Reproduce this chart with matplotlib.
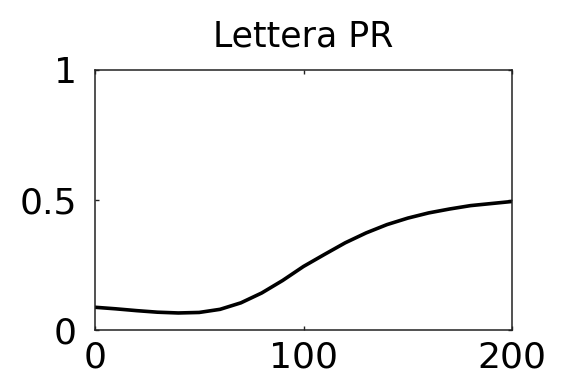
import matplotlib
matplotlib.use('Agg')
import matplotlib.pyplot as plt

# campioni della curva PR
campioni = [0, 10, 20, 30, 40, 50, 60, 70, 80, 90, 100,
            110, 120, 130, 140, 150, 160, 170, 180, 190, 200]
valori_pr = [0.087, 0.081, 0.074, 0.068, 0.065, 0.067, 0.079, 0.104, 0.142, 0.19, 0.244,
             0.29, 0.335, 0.373, 0.405, 0.43, 0.45, 0.465, 0.478, 0.486, 0.494]

x_ticks = [0, 100, 200]
y_ticks = [0, 0.5, 1]
y_tick_labels = ['0', '0.5', '1']

plt.rcParams['font.family'] = ['DejaVu Sans']

fig = plt.figure(figsize=(5.61, 3.74), dpi=100)
ax = fig.add_axes([0.169, 0.118, 0.744, 0.695])

ax.plot(campioni, valori_pr, color='black', linewidth=2.6, solid_capstyle='butt')

ax.set_xlim(0, 200)
ax.set_ylim(0, 1)
ax.set_xticks(x_ticks)
ax.set_yticks(y_ticks)
ax.set_yticklabels(y_tick_labels)
ax.tick_params(axis='both', direction='in', length=3, width=1, labelsize=26,
               top=True, right=True, color='#222222')
ax.tick_params(axis='x', pad=8)
ax.tick_params(axis='y', pad=13)

for spine in ax.spines.values():
    spine.set_linewidth(1.1)
    spine.set_color('#222222')

ax.set_title('Lettera PR', fontsize=25, pad=17)

plt.savefig('out.png', dpi=100)
plt.close()
